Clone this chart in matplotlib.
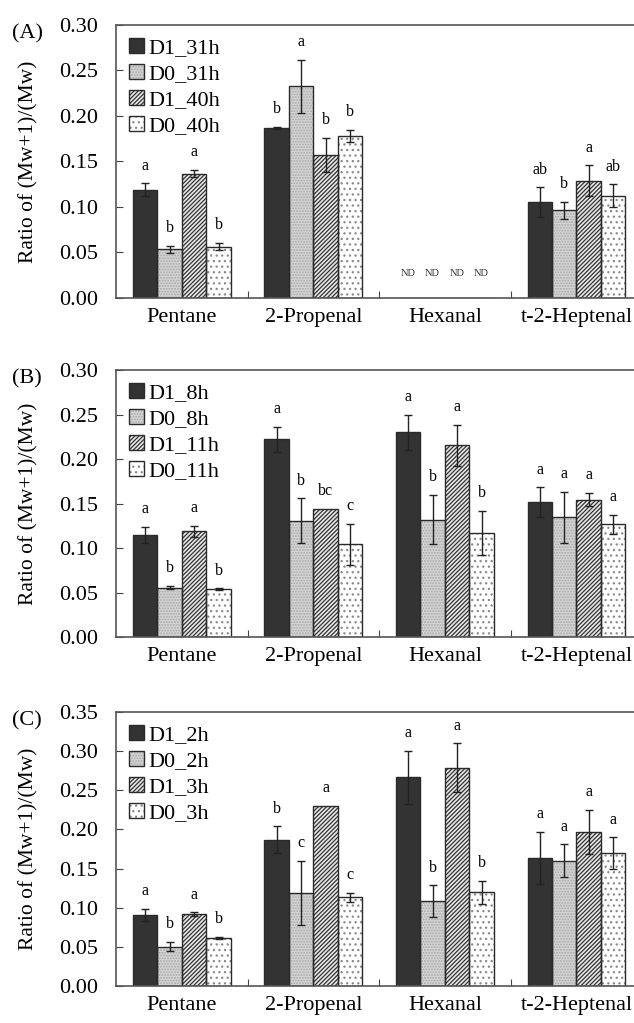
import matplotlib
matplotlib.use("Agg")
import matplotlib.pyplot as plt
import numpy as np

plt.rcParams['font.family'] = ['Liberation Serif', 'DejaVu Serif']
plt.rcParams['hatch.linewidth'] = 0.9

categories = ["Pentane", "2-Propenal", "Hexanal", "t-2-Heptenal"]

# Panel A
labels_A = ["D1_31h", "D0_31h", "D1_40h", "D0_40h"]
vals_A = [[0.119, 0.187, 0.0, 0.1055],
          [0.0535, 0.2326, 0.0, 0.0963],
          [0.1366, 0.157, 0.0, 0.1286],
          [0.0564, 0.178, 0.0, 0.1124]]
err_A = [[0.007, 0.001, 0.0, 0.016],
         [0.004, 0.029, 0.0, 0.009],
         [0.004, 0.019, 0.0, 0.017],
         [0.004, 0.007, 0.0, 0.0125]]
let_A = [["a", "b", "ND", "ab"],
         ["b", "a", "ND", "b"],
         ["a", "b", "ND", "a"],
         ["b", "b", "ND", "ab"]]

# Panel B
labels_B = ["D1_8h", "D0_8h", "D1_11h", "D0_11h"]
vals_B = [[0.1146, 0.222, 0.230, 0.1513],
          [0.0554, 0.1307, 0.132, 0.1345],
          [0.1187, 0.1442, 0.2157, 0.1543],
          [0.0536, 0.104, 0.1169, 0.1266]]
err_B = [[0.009, 0.014, 0.020, 0.017],
         [0.002, 0.025, 0.028, 0.029],
         [0.006, 0.0, 0.023, 0.0075],
         [0.001, 0.023, 0.025, 0.011]]
let_B = [["a", "a", "a", "a"],
         ["b", "b", "b", "a"],
         ["a", "bc", "a", "a"],
         ["b", "c", "b", "a"]]

# Panel C
labels_C = ["D1_2h", "D0_2h", "D1_3h", "D0_3h"]
vals_C = [[0.0907, 0.1869, 0.2665, 0.1639],
          [0.0502, 0.1192, 0.1086, 0.160],
          [0.092, 0.2303, 0.279, 0.197],
          [0.0613, 0.1132, 0.1197, 0.170]]
err_C = [[0.008, 0.017, 0.034, 0.033],
         [0.006, 0.041, 0.020, 0.021],
         [0.002, 0.0, 0.031, 0.028],
         [0.001, 0.006, 0.015, 0.020]]
let_C = [["a", "b", "a", "a"],
         ["b", "c", "b", "a"],
         ["a", "a", "a", "a"],
         ["b", "c", "b", "a"]]

panels = [("(A)", labels_A, vals_A, err_A, let_A, 0.30, [0.183, 0.7087, 0.83, 0.2669]),
          ("(B)", labels_B, vals_B, err_B, let_B, 0.30, [0.183, 0.3773, 0.83, 0.2610]),
          ("(C)", labels_C, vals_C, err_C, let_C, 0.35, [0.183, 0.0362, 0.83, 0.2678])]

styles = [dict(facecolor="#333333", hatch=None, hc="#333333"),
          dict(facecolor="#d4d4d4", hatch="......", hc="#a8a8a8"),
          dict(facecolor="#e8e8e8", hatch="////////", hc="#333333"),
          dict(facecolor="white", hatch="...", hc="#8a8a8a")]
edge = "#2a2a2a"

fig = plt.figure(figsize=(6.34, 10.23), dpi=100)
w = 0.186
x = np.arange(len(categories))
for tag, labs, vals, errs, lets, ymax, pos in panels:
    ax = fig.add_axes(pos)
    handles = []
    for i in range(4):
        off = (i - 1.5) * w
        st = styles[i]
        b1 = ax.bar(x + off, vals[i], width=w, facecolor=st["facecolor"], hatch=st["hatch"],
                    edgecolor=st["hc"], linewidth=0, zorder=2)
        b2 = ax.bar(x + off, vals[i], width=w, fill=False, edgecolor=edge, linewidth=1.0, zorder=2.5)
        handles.append((b1.patches[0], b2.patches[0]))
        for j in range(len(categories)):
            v = vals[i][j]
            e = errs[i][j]
            if lets[i][j] == "ND":
                ax.text(x[j] + off, 0.027, "ND", ha="center", va="center", fontsize=7.5, color="#333333")
                continue
            if e > 0:
                ax.errorbar(x[j] + off, v, yerr=e, color="#222222", capsize=3, elinewidth=1.0,
                            capthick=1.0, zorder=3)
            ax.annotate(lets[i][j], (x[j] + off, v + e), xytext=(0, 7), textcoords="offset points",
                        ha="center", va="bottom", fontsize=11.5)
    ax.set_xlim(-0.5, 3.5)
    ax.set_ylim(0, ymax)
    yt = np.arange(0, ymax + 1e-9, 0.05)
    ax.set_yticks(yt)
    ax.set_yticklabels([f"{t:.2f}" for t in yt], fontsize=16)
    ax.set_xticks([0.5, 1.5, 2.5])
    ax.set_xticklabels([])
    ax.set_xticks(x, minor=True)
    ax.set_xticklabels(categories, minor=True, fontsize=16)
    ax.tick_params(axis="x", which="major", direction="in", length=5, color="#444444")
    ax.tick_params(axis="x", which="minor", length=0, pad=7)
    ax.tick_params(axis="y", direction="in", length=5, color="#444444", pad=13)
    for s in ax.spines.values():
        s.set_color("#555555")
        s.set_linewidth(1.2)
    ax.set_ylabel("Ratio of (Mw+1)/(Mw)", fontsize=15.5, labelpad=15)
    ax.legend(handles, labs, loc="upper left", frameon=False, fontsize=16, handlelength=0.65,
              handleheight=0.65, handletextpad=0.2, labelspacing=0.26, borderaxespad=0.3,
              borderpad=0.3)
    fig.text(0.043, pos[1] + pos[3] - 0.009, tag, fontsize=16, ha="center", va="center")

fig.savefig("out.png", dpi=100)
